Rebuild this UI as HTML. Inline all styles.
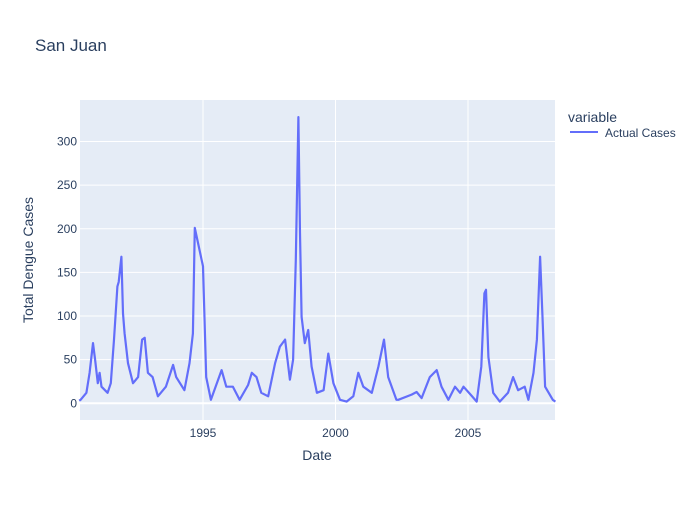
<!DOCTYPE html>
<html><head><meta charset="utf-8"><style>
body{margin:0;background:#fff;font-family:"Liberation Sans",Arial,sans-serif}
svg text{font-family:"Liberation Sans",Arial,sans-serif;fill:#2a3f5f}
</style></head><body>
<svg width="700" height="500" id="c">
<text x="35" y="51" font-size="17">San Juan</text>
<rect x="80" y="100" width="475" height="320" fill="#e5ecf6"/>
<g id="grid"></g>
<g id="ticks"></g>
<path id="line" fill="none" stroke="#636efa" stroke-width="2.2" stroke-linejoin="round"/>
<text x="317" y="460" font-size="14" text-anchor="middle">Date</text>
<text transform="translate(33,260) rotate(-90)" font-size="14" text-anchor="middle">Total Dengue Cases</text>
<text x="568" y="122" font-size="14">variable</text>
<g>
<line x1="570" y1="132" x2="598" y2="132" stroke="#636efa" stroke-width="2"/>
<text x="605" y="137" font-size="12">Actual Cases</text>
</g>
</svg>
<script>
const dates=[1990.33,1990.38,1990.6,1990.72,1990.85,1990.93,1991.03,1991.1,1991.17,1991.4,1991.52,1991.64,1991.77,1991.82,1991.92,1991.98,1992.04,1992.17,1992.36,1992.55,1992.7,1992.8,1992.92,1993.1,1993.3,1993.6,1993.87,1993.99,1994.3,1994.49,1994.62,1994.69,1995.0,1995.12,1995.3,1995.7,1995.88,1996.13,1996.38,1996.7,1996.84,1997.02,1997.2,1997.46,1997.72,1997.9,1998.1,1998.28,1998.4,1998.5,1998.6,1998.66,1998.72,1998.84,1998.97,1999.1,1999.3,1999.55,1999.73,1999.92,2000.17,2000.42,2000.67,2000.86,2001.05,2001.37,2001.62,2001.83,2001.99,2002.3,2002.37,2002.87,2003.06,2003.25,2003.56,2003.82,2004.0,2004.26,2004.51,2004.7,2004.83,2005.1,2005.33,2005.5,2005.62,2005.68,2005.77,2005.95,2006.2,2006.51,2006.7,2006.89,2007.14,2007.28,2007.47,2007.6,2007.72,2007.81,2007.91,2008.2,2008.3];
const cases=[3,4,12,35,69,50,23,35,19,12,23,73,134,139,168,103,80,46,23,30,73,75,35,30,8,19,44,30,15,46,80,201,157,30,4,38,19,19,4,21,35,30,12,8,46,65,73,27,50,164,328,195,99,69,84,42,12,15,57,23,4,2,8,35,19,12,42,73,30,4,4,10,13,6,30,38,19,4,19,12,19,10,2,42,126,130,53,12,2,12,30,15,19,4,35,73,168,99,19,4,2];
const yTicks=[0,50,100,150,200,250,300];
const xTicks=[1995,2000,2005];
const X=d=>203+(d-1995)*26.5;
const Y=v=>403.3-v*0.8727;
const ns="http://www.w3.org/2000/svg";
const grid=document.getElementById('grid'),tk=document.getElementById('ticks');
yTicks.forEach(v=>{
 const l=document.createElementNS(ns,'line');
 l.setAttribute('x1',80);l.setAttribute('x2',555);l.setAttribute('y1',Y(v));l.setAttribute('y2',Y(v));
 l.setAttribute('stroke','#fff');l.setAttribute('stroke-width',v===0?2:1);
 
 
 grid.appendChild(l);
 const t=document.createElementNS(ns,'text');
 t.setAttribute('x',77);t.setAttribute('y',Y(v)+4);t.setAttribute('font-size',12);t.setAttribute('text-anchor','end');
 t.textContent=v;
 
 
 tk.appendChild(t);
});
xTicks.forEach(v=>{
 const l=document.createElementNS(ns,'line');
 l.setAttribute('x1',X(v));l.setAttribute('x2',X(v));l.setAttribute('y1',100);l.setAttribute('y2',420);
 l.setAttribute('stroke','#fff');l.setAttribute('stroke-width',1);
 
 
 grid.appendChild(l);
 const t=document.createElementNS(ns,'text');
 t.setAttribute('x',X(v));t.setAttribute('y',437);t.setAttribute('font-size',12);t.setAttribute('text-anchor','middle');
 t.textContent=v;
 
 
 tk.appendChild(t);
});
document.getElementById('line').setAttribute('d',dates.map((d,i)=>(i?'L':'M')+X(d).toFixed(1)+','+Y(cases[i]).toFixed(1)).join(''));
</script>
</body></html>
